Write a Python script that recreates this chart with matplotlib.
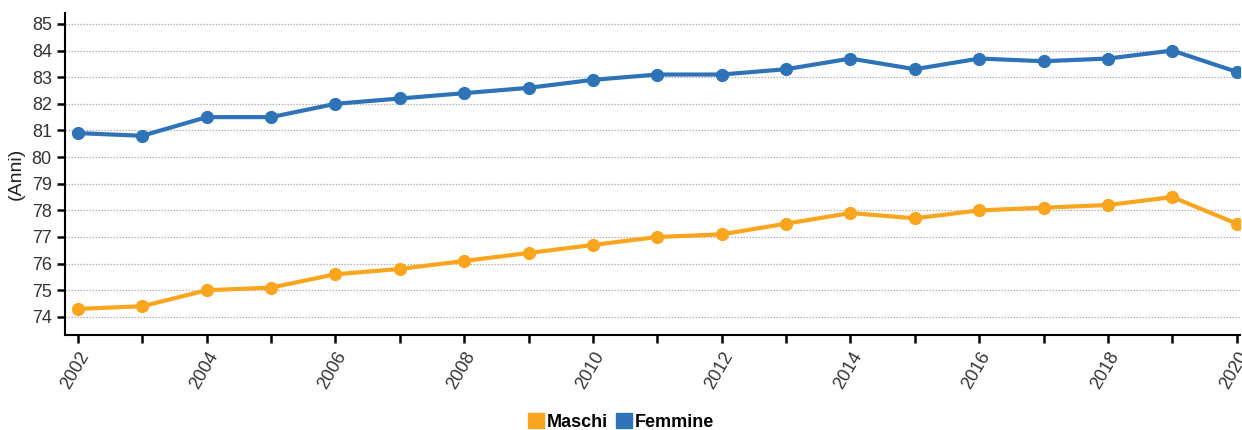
import matplotlib
matplotlib.use("Agg")
import matplotlib.pyplot as plt
from matplotlib.patches import Patch

plt.rcParams['font.family'] = ['Liberation Sans', 'DejaVu Sans']

years = list(range(2002, 2021))
maschi = [74.3, 74.4, 75.0, 75.1, 75.6, 75.8, 76.1, 76.4, 76.7, 77.0,
          77.1, 77.5, 77.9, 77.7, 78.0, 78.1, 78.2, 78.5, 77.5]
femmine = [80.9, 80.8, 81.5, 81.5, 82.0, 82.2, 82.4, 82.6, 82.9, 83.1,
           83.1, 83.3, 83.7, 83.3, 83.7, 83.6, 83.7, 84.0, 83.2]
y_ticks = list(range(74, 86))
series_labels = ["Maschi", "Femmine"]

col_m = "#F9A51E"
col_f = "#2E73B8"

fig = plt.figure(figsize=(12.42, 4.30), dpi=100)
ax = fig.add_axes([65/1242, 1 - 335/430, (1240 - 65)/1242, (335 - 13)/430])

ax.plot(years, maschi, color=col_m, lw=3, marker="o", ms=8.5)
ax.plot(years, femmine, color=col_f, lw=3, marker="o", ms=8.5)

ax.set_xlim(2001.8, 2020.05)
ax.set_ylim(73.32, 85.41)
ax.set_yticks(y_ticks)
ax.set_xticks(years)
ax.set_xticklabels([str(y) if y % 2 == 0 else "" for y in years],
                   rotation=60, ha="right", va="top", rotation_mode="anchor")

ax.grid(axis="y", color="#b0b0b0", linestyle=(0, (1.2, 1.2)), lw=0.9)
ax.set_axisbelow(True)
for s in ["top", "right"]:
    ax.spines[s].set_visible(False)
for s in ["left", "bottom"]:
    ax.spines[s].set_linewidth(1.5)
ax.tick_params(axis="both", length=6, width=1.8, labelsize=13, labelcolor="#333333")
ax.tick_params(axis="x", pad=4)
ax.set_ylabel("(Anni)", fontsize=14, color="#222222")
ax.yaxis.set_label_coords(-0.034, 0.5)

handles = [Patch(color=col_m), Patch(color=col_f)]
leg = fig.legend(handles, series_labels, loc="center", bbox_to_anchor=(0.5, 1 - 422/430),
                 ncol=2, frameon=False, handlelength=0.9, handleheight=0.9,
                 handletextpad=0.15, columnspacing=0.4,
                 prop={"weight": "bold", "size": 13})

fig.savefig("out.png", dpi=100)
